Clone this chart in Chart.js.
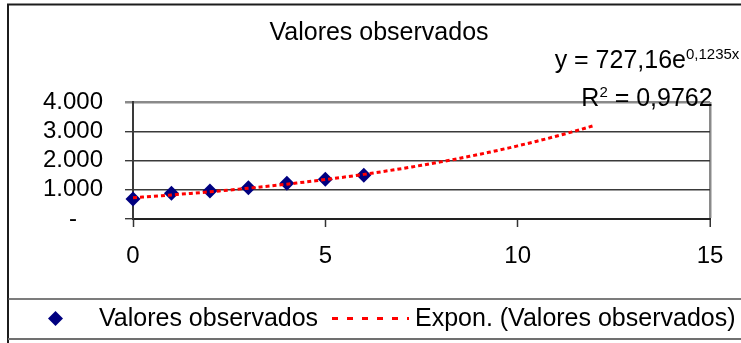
<!DOCTYPE html>
<html>
<head>
<meta charset="utf-8">
<script src="https://cdn.jsdelivr.net/npm/chart.js@4.4.1/dist/chart.umd.min.js"></script>
<style>
  html, body { margin: 0; padding: 0; background: #fff; }
  #wrap { width: 741px; height: 343px; position: relative; }
</style>
</head>
<body>
<div id="wrap"><canvas id="c" width="741" height="343"></canvas></div>
<script>
// Observed values
const xObserved = [0, 1, 2, 3, 4, 5, 6];
const yObserved = [680, 880, 960, 1070, 1220, 1360, 1500];

// Axis ticks
const yTickValues = [0, 1000, 2000, 3000, 4000];
const yTickLabels = ['-', '1.000', '2.000', '3.000', '4.000'];
const xTickValues = [0, 5, 10, 15];
const xTickLabels = ['0', '5', '10', '15'];

// Exponential trend line y = a·e^(b·x), fitted to the observed values
const trendCoefA = 727.16;
const trendCoefB = 0.1235;
const trendR2 = 0.9762;
const trendXRange = [0, 12];

const seriesLabel = 'Valores observados';
const trendLabel = 'Expon. (Valores observados)';
const chartTitle = 'Valores observados';

const FONT = '"Liberation Sans", Arial, sans-serif';
const decimalComma = v => String(v).replace('.', ',');

const observedPoints = xObserved.map((x, i) => ({ x, y: yObserved[i] }));
const trendPoints = [];
for (let x = trendXRange[0]; x <= trendXRange[1] + 1e-9; x += 0.25) {
  trendPoints.push({ x, y: trendCoefA * Math.exp(trendCoefB * x) });
}

function diamond(ctx, cx, cy, r) {
  ctx.beginPath();
  ctx.moveTo(cx, cy - r);
  ctx.lineTo(cx + r, cy);
  ctx.lineTo(cx, cy + r);
  ctx.lineTo(cx - r, cy);
  ctx.closePath();
  ctx.fill();
}

const decorPlugin = {
  id: 'decor',
  afterDraw(chart) {
    const ctx = chart.ctx;
    const W = chart.width, H = chart.height;
    ctx.save();

    // outer chart frame
    ctx.strokeStyle = '#1c1c1c';
    ctx.lineWidth = 2;
    ctx.beginPath();
    ctx.moveTo(8, H);
    ctx.lineTo(8, 4.5);
    ctx.lineTo(W, 4.5);
    ctx.stroke();

    // legend box
    ctx.strokeStyle = '#505050';
    ctx.lineWidth = 1.5;
    ctx.beginPath();
    ctx.moveTo(8, 299);
    ctx.lineTo(W, 299);
    ctx.stroke();
    ctx.strokeStyle = '#707070';
    ctx.lineWidth = 2;
    ctx.beginPath();
    ctx.moveTo(8, 339);
    ctx.lineTo(W, 339);
    ctx.stroke();

    // title
    ctx.fillStyle = '#000';
    ctx.font = '25px ' + FONT;
    ctx.textBaseline = 'alphabetic';
    ctx.textAlign = 'center';
    ctx.fillText(chartTitle, 379, 40);
    ctx.textAlign = 'left';

    const dsPts = chart.data.datasets[1];
    const dsTrend = chart.data.datasets[0];

    // legend entries
    ctx.fillStyle = dsPts.backgroundColor;
    diamond(ctx, 55.5, 318.5, 7.5);
    ctx.fillStyle = '#000';
    ctx.fillText(dsPts.label, 99, 326);

    ctx.strokeStyle = dsTrend.borderColor;
    ctx.lineWidth = 3;
    ctx.setLineDash([6, 9]);
    ctx.beginPath();
    ctx.moveTo(332, 318.5);
    ctx.lineTo(409, 318.5);
    ctx.stroke();
    ctx.setLineDash([]);
    ctx.fillText(dsTrend.label, 415, 326);

    // trend equation and R², centred on one column
    const cx = 647;
    const eqBase = 'y = ' + decimalComma(trendCoefA) + 'e';
    const eqSup = decimalComma(trendCoefB) + 'x';
    ctx.font = '25px ' + FONT;
    const wb = ctx.measureText(eqBase).width;
    ctx.font = '15px ' + FONT;
    const ws = ctx.measureText(eqSup).width;
    const s1 = cx - (wb + ws) / 2;
    ctx.font = '25px ' + FONT;
    ctx.fillText(eqBase, s1, 68);
    ctx.font = '15px ' + FONT;
    ctx.fillText(eqSup, s1 + wb, 58.5);

    ctx.font = '25px ' + FONT;
    const wR = ctx.measureText('R').width;
    const rest = ' = ' + decimalComma(trendR2);
    const wRest = ctx.measureText(rest).width;
    ctx.font = '15px ' + FONT;
    const w2 = ctx.measureText('2').width;
    const s2 = cx - (wR + w2 + wRest) / 2;
    ctx.font = '25px ' + FONT;
    ctx.fillText('R', s2, 106);
    ctx.fillText(rest, s2 + wR + w2, 106);
    ctx.font = '15px ' + FONT;
    ctx.fillText('2', s2 + wR, 96.5);

    ctx.restore();
  }
};

new Chart(document.getElementById('c'), {
  type: 'line',
  data: {
    datasets: [
      {
        label: trendLabel,
        data: trendPoints,
        borderColor: '#ff0000',
        borderWidth: 3,
        borderDash: [4, 3],
        pointRadius: 0,
        tension: 0,
        fill: false,
        order: 0,
        clip: false
      },
      {
        label: seriesLabel,
        data: observedPoints,
        showLine: false,
        pointStyle: 'rectRot',
        pointRadius: 7.5,
        pointBorderWidth: 0,
        backgroundColor: '#000080',
        borderColor: '#000080',
        order: 1,
        clip: false
      }
    ]
  },
  options: {
    responsive: false,
    animation: false,
    devicePixelRatio: 1,
    layout: { padding: { left: 17, right: 31, top: 102, bottom: 74 } },
    plugins: {
      legend: { display: false },
      tooltip: { enabled: false },
      title: { display: false }
    },
    scales: {
      x: {
        type: 'linear',
        min: 0,
        max: 15,
        afterBuildTicks: s => { s.ticks = xTickValues.map(v => ({ value: v })); },
        afterFit: s => { s.height = 50; },
        ticks: {
          color: '#000',
          font: { family: FONT, size: 24 },
          padding: 15,
          maxRotation: 0,
          autoSkip: false,
          callback: (v, i) => xTickLabels[i]
        },
        grid: {
          drawOnChartArea: true,
          tickLength: 8,
          color: c => (c.tick && c.tick.value === 15 ? '#8a8a8a' : 'rgba(0,0,0,0)'),
          lineWidth: c => (c.tick && c.tick.value === 15 ? 2.5 : 1),
          tickColor: '#333',
          tickWidth: 1.5
        },
        border: { color: '#222', width: 2 }
      },
      y: {
        min: 0,
        max: 4000,
        afterBuildTicks: s => { s.ticks = yTickValues.map(v => ({ value: v })); },
        afterFit: s => { s.width = 116; },
        ticks: {
          color: '#000',
          font: { family: FONT, size: 24 },
          crossAlign: 'center',
          padding: 22,
          autoSkip: false,
          callback: (v, i) => yTickLabels[i]
        },
        grid: {
          tickLength: 8,
          color: c => (c.tick && c.tick.value === 4000 ? '#8a8a8a' : '#3a3a3a'),
          lineWidth: c => (c.tick && c.tick.value === 4000 ? 2.5 : 1.4)
        },
        border: { color: '#3a3a3a', width: 2 }
      }
    }
  },
  plugins: [decorPlugin]
});
</script>
</body>
</html>
